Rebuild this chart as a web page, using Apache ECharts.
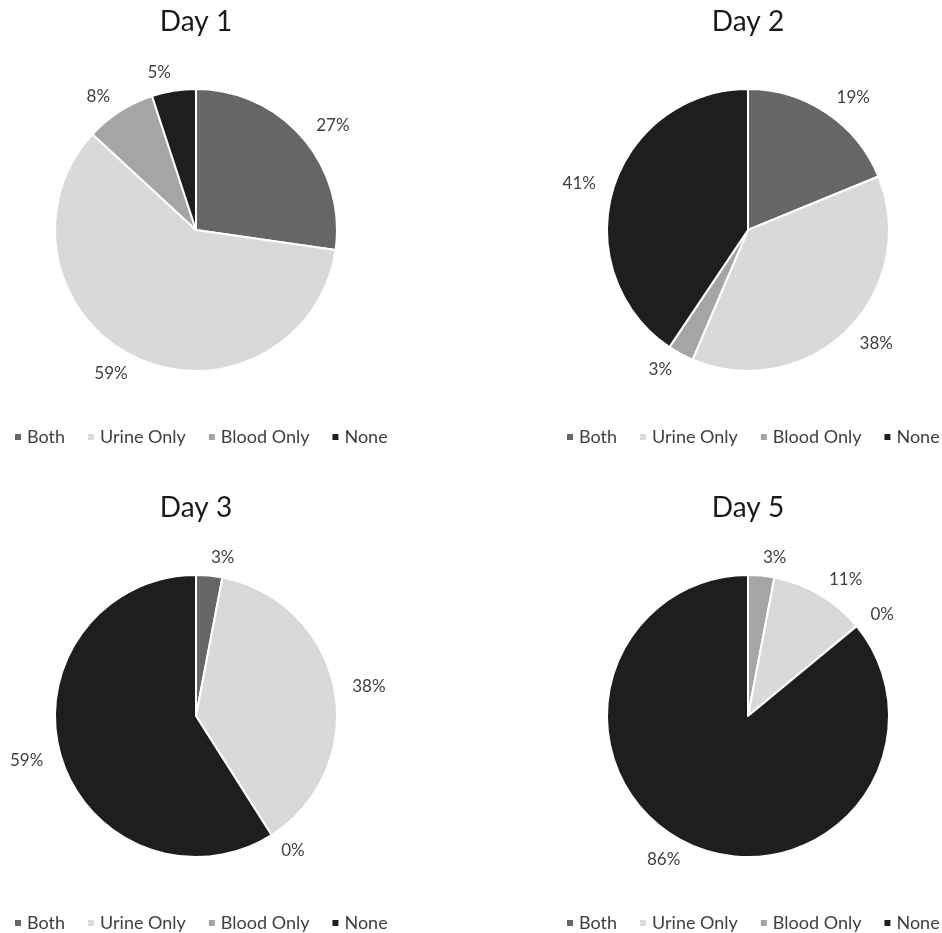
<!DOCTYPE html>
<html>
<head>
<meta charset="utf-8">
<title>Detection by day</title>
<script src="https://cdn.jsdelivr.net/npm/echarts@6/dist/echarts.min.js"></script>
<style>
  html, body { margin: 0; padding: 0; background: #ffffff; }
  #chart { width: 942px; height: 933px; }
</style>
</head>
<body>
<div id="chart"></div>
<script>
// Categories shown in every legend
const categories = ['Both', 'Urine Only', 'Blood Only', 'None'];

// Panel titles
const dayTitles = ['Day 1', 'Day 2', 'Day 3', 'Day 5'];

// Percent of patients per category, one array per day
const day1Values = [27, 59, 8, 5];
const day2Values = [19, 38, 3, 41];
const day3Values = [3, 38, 0, 59];
// Day 5 slices run Blood Only, Urine Only, Both, None clockwise
const day5Order = ['Blood Only', 'Urine Only', 'Both', 'None'];
const day5Values = [3, 11, 0, 86];

const colorOf = {
  'Both': '#666666',
  'Urine Only': '#d9d9d9',
  'Blood Only': '#a5a5a5',
  'None': '#1e1e1e'
};

const panels = [
  { title: dayTitles[0], names: categories, values: day1Values, cx: 196, cy: 230 },
  { title: dayTitles[1], names: categories, values: day2Values, cx: 748, cy: 230 },
  { title: dayTitles[2], names: categories, values: day3Values, cx: 196, cy: 716 },
  { title: dayTitles[3], names: day5Order, values: day5Values, cx: 748, cy: 716 }
];

const FONT = 'Lato, "Open Sans", sans-serif';
const TEXT = '#404040';

const option = {
  animation: false,
  backgroundColor: '#ffffff',
  title: panels.map(p => ({
    text: p.title,
    left: p.cx - 5,
    top: p.cy - 227,
    textAlign: 'center',
    textStyle: { fontFamily: FONT, fontSize: 28, fontWeight: 'normal', color: '#1a1a1a' }
  })),
  legend: panels.map(p => ({
    data: categories,
    left: p.cx - 183,
    top: p.cy + 198,
    width: 420,
    padding: 0,
    icon: 'rect',
    itemWidth: 8,
    itemHeight: 8,
    itemGap: 21,
    selectedMode: false,
    textStyle: { fontFamily: FONT, fontSize: 18, color: TEXT }
  })),
  series: panels.map(p => ({
    type: 'pie',
    center: [p.cx, p.cy],
    radius: 141,
    startAngle: 90,
    clockwise: true,
    avoidLabelOverlap: false,
    itemStyle: { borderColor: '#ffffff', borderWidth: 2 },
    label: {
      show: true,
      position: 'outside',
      formatter: '{c}%',
      fontFamily: FONT,
      fontSize: 17,
      color: TEXT,
      distanceToLabelLine: 0
    },
    labelLine: { show: false, length: 18, length2: 0 },
    emphasis: { disabled: true },
    data: p.names.map((n, i) => ({
      name: n,
      value: p.values[i],
      itemStyle: { color: colorOf[n] }
    }))
  }))
};

const chart = echarts.init(document.getElementById('chart'), null, { renderer: 'canvas' });
chart.setOption(option);
</script>
</body>
</html>
